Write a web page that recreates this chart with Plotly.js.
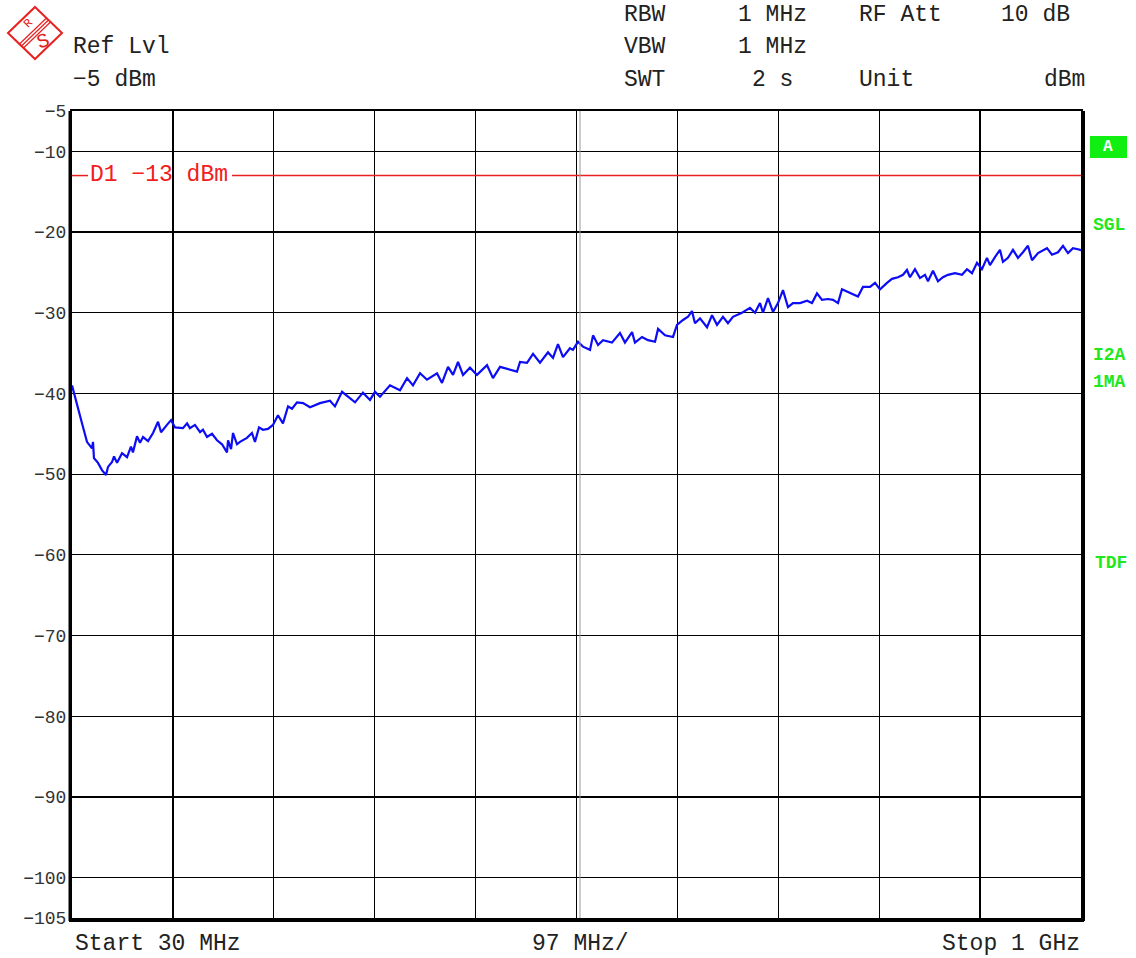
<!DOCTYPE html>
<html>
<head>
<meta charset="utf-8">
<script src="https://cdn.plot.ly/plotly-3.0.1.min.js"></script>
<style>
  html, body { margin: 0; padding: 0; background: #fff; }
  #chart { width: 1136px; height: 958px; }
</style>
</head>
<body>
<div id="chart"></div>
<script>
// ---- Data (MHz, dBm) ----
const freqMHz = [30,34.8,39.6,44.4,49.2,50.2,51.1,55.0,58.8,62.7,64.6,68.5,70.4,73.3,78.1,82.9,86.7,88.6,92.5,95.4,98.3,103.1,107.9,112.7,115.6,121.3,125.2,129.0,136.7,140.6,143.4,148.2,153.1,155.9,159.8,164.6,169.4,174.2,179.0,180.0,182.9,184.8,188.6,191.5,198.2,203.0,205.9,209.8,213.6,218.4,223.2,228.0,232.8,237.7,241.5,246.3,252.1,
258.8,268.4,278.0,282.8,289.6,297.3,302.1,309.7,316.5,321.3,326.1,335.7,345.3,352.1,357.8,364.6,371.3,380.9,385.7,391.5,396.3,401.1,405.9,412.6,419.3,429.0,434.7,441.5,451.1,457.8,460.7,467.4,473.2,479.9,487.6,492.4,497.2,502.0,508.7,
511.6,516.4,521.2,528.0,530.9,535.7,540.5,549.1,556.8,561.6,568.4,571.2,578.0,583.7,590.5,593.4,600.1,607.8,611.6,617.4,622.2,626.0,628.9,633.7,640.5,645.3,650.1,655.8,660.6,665.4,674.1,681.8,686.6,691.4,694.3,699.1,703.9,708.7,713.5,718.3,723.1,729.9,736.6,741.4,746.2,751.0,756.8,
761.6,766.4,770.2,777.9,785.6,790.4,797.2,802.0,806.8,813.5,818.3,824.1,828.9,832.7,835.6,840.4,845.2,850.0,852.9,857.7,862.5,867.3,872.1,878.9,885.6,890.4,895.2,900.0,904.8,909.6,912.5,917.3,922.1,925.0,929.8,934.6,939.4,944.2,949.0,952.9,958.7,967.3,972.1,977.9,982.7,987.5,992.3,999.0,1000];

const levelDBm = [-39.0,-41.2,-43.7,-46.0,-46.8,-46.0,-48.0,-48.6,-49.5,-50.1,-49.1,-48.5,-47.8,-48.6,-47.4,-47.9,-46.6,-47.3,-45.3,-46.1,-45.4,-45.9,-44.9,-43.5,-44.8,-43.9,-43.3,-44.2,-44.3,-43.7,-44.3,-43.9,-44.8,-44.5,-45.4,-45.0,-45.8,-46.3,-47.3,-45.8,-46.9,-44.9,-46.3,-46.0,-45.5,-44.9,-46.0,-44.2,-44.5,-44.4,-43.9,-42.7,-43.7,-41.6,-41.9,-41.1,-41.2,
-41.7,-41.2,-40.9,-41.6,-39.8,-40.6,-41.1,-39.9,-40.8,-39.8,-40.4,-39.0,-39.6,-38.1,-39.0,-37.5,-38.3,-37.5,-38.7,-36.7,-37.7,-36.1,-37.7,-36.8,-37.7,-36.5,-38.1,-36.7,-37.1,-37.3,-36.1,-36.2,-35.1,-36.2,-34.9,-35.6,-33.9,-35.5,-34.4,
-34.6,-33.6,-34.2,-34.6,-32.8,-34.0,-33.4,-33.7,-32.5,-33.7,-32.4,-33.7,-33.0,-33.4,-33.6,-32.0,-32.8,-33.0,-31.5,-30.9,-30.5,-29.8,-31.3,-30.7,-31.8,-30.3,-31.5,-30.5,-31.3,-30.5,-30.0,-29.4,-30.0,-28.8,-30.0,-28.2,-29.9,-28.8,-27.2,-29.3,-28.8,-28.8,-28.5,-28.8,-27.6,-28.4,-28.3,
-28.4,-28.8,-27.1,-27.6,-28.0,-26.8,-26.8,-26.3,-27.1,-26.3,-25.8,-25.6,-25.3,-24.7,-25.6,-24.6,-25.7,-25.3,-26.1,-24.8,-26.1,-25.6,-25.3,-25.1,-25.3,-24.6,-25.1,-23.8,-24.6,-23.2,-24.1,-23.1,-22.2,-23.7,-23.2,-22.2,-23.2,-22.5,-21.7,-23.5,-22.6,-22.0,-22.8,-22.5,-21.7,-22.6,-22.0,-22.2,-22.3];

const startMHz = 30, stopMHz = 1000, spanPerDivMHz = 97;
const refLevel = -5, bottomLevel = -105;
const limitLine = -13;
const yTickVals = [-5,-10,-20,-30,-40,-50,-60,-70,-80,-90,-100,-105];
const yTickText = ['\u22125','\u221210','\u221220','\u221230','\u221240','\u221250','\u221260','\u221270','\u221280','\u221290','\u2212100','\u2212105'];
const xGridVals = [1,2,3,4,5,6,7,8,9].map(k => startMHz + k*spanPerDivMHz);

// ---- Layout helpers (pixel -> paper) ----
const L = 72, R = 1081, T = 111, B = 918;
const X = px => (px - L) / (R - L);
const Y = py => (B - py) / (B - T);

const MONO = 'Liberation Mono, Courier New, monospace';
const FS = 23;
const txt = (px, py, text, opts = {}) => Object.assign({
  xref: 'paper', yref: 'paper', x: X(px), y: Y(py), text: text,
  showarrow: false, xanchor: 'left', yanchor: 'middle',
  font: {family: MONO, size: FS, color: '#222'}
}, opts);

const green = '#1ee81e';
const annotations = [
  txt(71, 47, 'Ref Lvl'),
  txt(71, 80, '\u22125 dBm'),
  txt(622, 15, 'RBW'),
  txt(736, 15, '1 MHz'),
  txt(857, 15, 'RF Att'),
  txt(999, 15, '10 dB'),
  txt(622, 47, 'VBW'),
  txt(736, 47, '1 MHz'),
  txt(622, 80, 'SWT'),
  txt(750, 80, '2 s'),
  txt(857, 80, 'Unit'),
  txt(1087, 80, 'dBm', {xanchor: 'right'}),
  txt(73, 944, 'Start 30 MHz'),
  txt(580, 944, '97 MHz/', {xanchor: 'center'}),
  txt(1082, 944, 'Stop 1 GHz', {xanchor: 'right'}),
  txt(88, 175, 'D1 \u221213 dBm', {font: {family: MONO, size: FS, color: '#f02020'}}),
  txt(1108, 147, '<b>A</b>', {xanchor: 'center', font: {family: MONO, size: 16, color: '#fff'}}),
  txt(1091, 225, '<b>SGL</b>', {font: {family: MONO, size: 18, color: green}}),
  txt(1091, 355, '<b>I2A</b>', {font: {family: MONO, size: 18, color: green}}),
  txt(1091, 382, '<b>1MA</b>', {font: {family: MONO, size: 18, color: green}}),
  txt(1093, 563, '<b>TDF</b>', {font: {family: MONO, size: 18, color: green}}),
  txt(28, 24, 'R', {xanchor: 'center', textangle: -45, font: {family: MONO, size: 12, color: '#e02020'}}),
  txt(43, 41, 'S', {xanchor: 'center', textangle: -20, font: {family: MONO, size: 20, color: '#e02020'}})
];

const pl = (x0, y0, x1, y1, color, width) => ({
  type: 'line', xref: 'paper', yref: 'paper', x0: X(x0), y0: Y(y0), x1: X(x1), y1: Y(y1),
  line: {color: color, width: width}, layer: 'above'
});
const pathPx = pts => 'M ' + pts.map(p => X(p[0]) + ',' + Y(p[1])).join(' L ') + ' Z';

const red = '#e82020';
const shapes = [
  // limit line D1 (two segments around its label)
  {type: 'line', xref: 'paper', yref: 'y', x0: 0, x1: X(88), y0: limitLine, y1: limitLine, line: {color: red, width: 1.5}},
  {type: 'line', xref: 'paper', yref: 'y', x0: X(232), x1: 1, y0: limitLine, y1: limitLine, line: {color: red, width: 1.5}},
  // frame extras
  pl(70, 111, 70, 921, '#000', 3),
  pl(69, 921, 1084, 921, '#000', 2),
  pl(1084, 111, 1084, 921, '#000', 2),
  pl(580, 111, 580, 918, '#999', 1),
  // green status box
  {type: 'rect', xref: 'paper', yref: 'paper', x0: X(1090), x1: X(1127), y0: Y(158), y1: Y(136),
   fillcolor: '#11ee11', line: {width: 0}, layer: 'below'},
  // R&S logo
  {type: 'path', xref: 'paper', yref: 'paper', path: pathPx([[35,7],[62,33],[35,59],[8,33]]),
   line: {color: red, width: 2}, fillcolor: 'rgba(0,0,0,0)'},
  pl(48.5, 20, 21.5, 46, red, 1.2),
  pl(50.5, 22, 23.5, 48, red, 1.2),
  pl(46.5, 18, 19.5, 44, red, 1.2)
];

const trace = {
  x: freqMHz, y: levelDBm, type: 'scatter', mode: 'lines',
  line: {color: '#0c0cf5', width: 2.2}, hoverinfo: 'skip'
};

const layout = {
  width: 1136, height: 958,
  margin: {l: L, r: 1136 - R, t: T, b: 958 - B, pad: 0},
  paper_bgcolor: '#fff', plot_bgcolor: '#fff',
  showlegend: false,
  xaxis: {
    range: [startMHz, stopMHz], tickmode: 'array', tickvals: xGridVals,
    showticklabels: false, ticks: '', showgrid: true, gridcolor: '#000', gridwidth: 1.3,
    zeroline: false, showline: true, linecolor: '#000', linewidth: 2, mirror: true, fixedrange: true
  },
  yaxis: {
    range: [bottomLevel, refLevel], tickmode: 'array', tickvals: yTickVals, ticktext: yTickText,
    ticks: '', showgrid: true, gridcolor: '#000', gridwidth: 1.3,
    tickfont: {family: MONO, size: 18, color: '#333'},
    zeroline: false, showline: true, linecolor: '#000', linewidth: 2, mirror: true, fixedrange: true
  },
  annotations: annotations,
  shapes: shapes
};

Plotly.newPlot('chart', [trace], layout, {displayModeBar: false, staticPlot: true});
</script>
</body>
</html>
